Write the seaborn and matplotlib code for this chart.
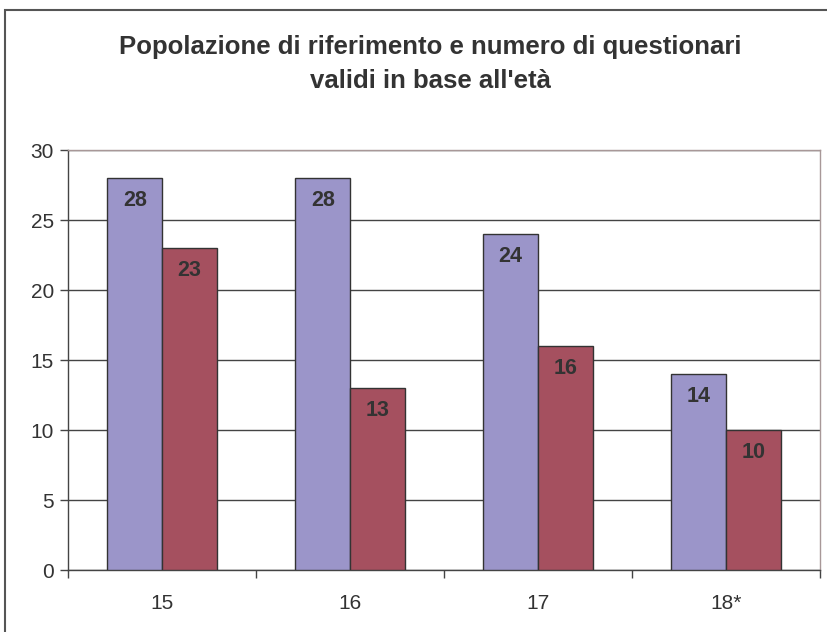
import matplotlib
matplotlib.use("Agg")
import matplotlib.pyplot as plt
import seaborn as sns
import pandas as pd
from matplotlib.patches import Rectangle
from matplotlib.ticker import FixedLocator

ages = ["15", "16", "17", "18*"]
popolazione = [28, 28, 24, 14]
questionari = [23, 13, 16, 10]
series_names = ["Popolazione di riferimento", "Questionari validi"]
y_ticks = [0, 5, 10, 15, 20, 25, 30]
title = "Popolazione di riferimento e numero di questionari\nvalidi in base all'età"

df = pd.DataFrame({
    "Età": ages * 2,
    "Valore": popolazione + questionari,
    "Serie": [series_names[0]] * len(ages) + [series_names[1]] * len(ages),
})

sns.set_style("white")
plt.rcParams["font.family"] = ["Liberation Sans", "DejaVu Sans"]

fig = plt.figure(figsize=(8.27, 6.32), dpi=100)
W, H = 827, 632
ax = fig.add_axes([68 / W, (H - 570) / H, 752 / W, 420 / H])

palette = {series_names[0]: "#9B95C9", series_names[1]: "#A5505F"}
sns.barplot(data=df, x="Età", y="Valore", hue="Serie", palette=palette,
            width=0.58, edgecolor="#333333", linewidth=1.0, saturation=1,
            legend=False, ax=ax, zorder=3)

ax.set_ylim(0, 30)
ax.set_xlim(-0.5, len(ages) - 0.5)
ax.set_yticks(y_ticks)
ax.yaxis.grid(True, color="#444444", linewidth=1.0, zorder=0)
ax.set_axisbelow(True)
ax.set_xlabel("")
ax.set_ylabel("")

for side in ["top", "right"]:
    ax.spines[side].set_color("#A89898")
    ax.spines[side].set_linewidth(1.0)
for side in ["left", "bottom"]:
    ax.spines[side].set_color("#444444")
    ax.spines[side].set_linewidth(1.0)

ax.tick_params(axis="y", which="major", direction="out", length=6, width=1,
               color="#444444", labelsize=15, labelcolor="#333333", pad=4, left=True)
ax.tick_params(axis="x", which="major", length=0, labelsize=15,
               labelcolor="#333333", pad=17)
ax.xaxis.set_minor_locator(FixedLocator([i - 0.5 for i in range(len(ages) + 1)]))
ax.tick_params(axis="x", which="minor", direction="out", length=6, width=1,
               color="#444444", bottom=True)

for cont in ax.containers:
    for bar in cont:
        h = bar.get_height()
        ax.annotate(f"{int(round(h))}", (bar.get_x() + bar.get_width() / 2, h),
                    xytext=(0, -16), textcoords="offset points",
                    ha="center", va="center", fontsize=15.5, fontweight="bold",
                    color="#333333", zorder=5)

fig.text(430 / W, 1 - 64 / H, title, ha="center", va="center",
         fontsize=18.5, fontweight="bold", color="#333333", linespacing=1.55)

fig.patches.append(Rectangle((5 / W, -0.1), 1.2, (H - 10) / H + 0.1,
                             transform=fig.transFigure, fill=False,
                             edgecolor="#555555", linewidth=1.5))

fig.savefig("out.png", dpi=100)
